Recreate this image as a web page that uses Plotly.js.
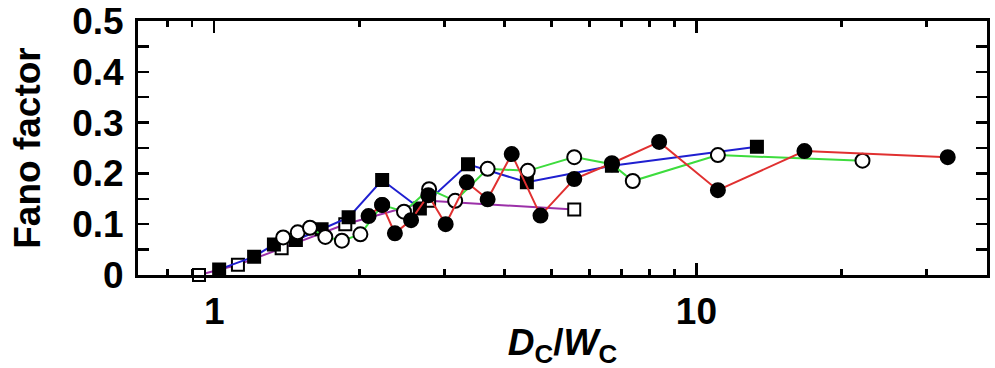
<!DOCTYPE html>
<html>
<head>
<meta charset="utf-8">
<script src="https://cdn.plot.ly/plotly-3.0.1.min.js"></script>
<style>html,body{margin:0;padding:0;background:#fff;}#chart{width:995px;height:368px;}</style>
</head>
<body>
<div id="chart"></div>
<script>
// Red series: filled circles
const redX = [2.09, 2.23, 2.37, 2.56, 2.78, 3.02, 3.34, 3.69, 4.14, 4.75, 5.58, 6.68, 8.37, 11.08, 16.75, 33.2];
const redY = [0.116, 0.138, 0.082, 0.108, 0.157, 0.100, 0.1825, 0.149, 0.238, 0.117, 0.189, 0.220, 0.262, 0.167, 0.244, 0.232];
// Green series: open circles
const greenX = [1.39, 1.49, 1.58, 1.70, 1.84, 2.01, 2.23, 2.475, 2.79, 3.16, 3.69, 4.47, 5.58, 6.68, 7.38, 11.08, 22.1];
const greenY = [0.074, 0.084, 0.093, 0.075, 0.0676, 0.080, 0.138, 0.1247, 0.169, 0.146, 0.209, 0.205, 0.232, 0.218, 0.185, 0.236, 0.225];
// Blue series: filled squares
const blueX = [1.024, 1.21, 1.33, 1.477, 1.67, 1.90, 2.23, 2.67, 3.36, 4.45, 6.68, 13.35];
const blueY = [0.011, 0.036, 0.060, 0.069, 0.090, 0.1135, 0.187, 0.131, 0.218, 0.1825, 0.215, 0.2526];
// Purple series: open squares
const purpleX = [0.93, 1.12, 1.38, 1.87, 2.79, 5.58];
const purpleY = [0.0, 0.020, 0.0525, 0.100, 0.146, 0.129];

const xMajor = [1, 10];
const xMajorText = ['1', '10'];
const xMinor = [0.8, 0.9, 2, 3, 4, 5, 6, 7, 8, 9, 20, 30];
const yTicks = [0, 0.1, 0.2, 0.3, 0.4, 0.5];
const yTickText = ['0', '0.1', '0.2', '0.3', '0.4', '0.5'];

const FONT = 'Liberation Sans, Arial, Helvetica, sans-serif';

function trace(x, y, color, symbol, filled) {
  return {
    x: x, y: y, type: 'scatter', mode: 'lines+markers', cliponaxis: false,
    line: {color: color, width: 2},
    marker: {
      symbol: symbol, size: symbol === 'circle' ? 14 : 12,
      color: filled ? '#000' : '#fff',
      line: {color: '#000', width: 2}
    },
    showlegend: false
  };
}

const data = [
  trace(purpleX, purpleY, '#9b30a8', 'square', false),
  trace(blueX, blueY, '#1f1fd0', 'square', true),
  trace(greenX, greenY, '#3ddc3d', 'circle', false),
  trace(redX, redY, '#e03030', 'circle', true)
];

const layout = {
  width: 995, height: 368,
  margin: {l: 138, r: 8, t: 21, b: 93},
  paper_bgcolor: '#fff', plot_bgcolor: '#fff',
  font: {family: FONT, color: '#000'},
  xaxis: {
    type: 'log', range: [Math.log10(0.695), Math.log10(40.05)],
    tickmode: 'array', tickvals: xMajor, ticktext: xMajorText,
    ticks: 'inside', ticklen: 12, tickwidth: 2.5, tickcolor: '#000',
    minor: {tickmode: 'array', tickvals: xMinor, ticks: 'inside', ticklen: 6, tickwidth: 2.5, tickcolor: '#000'},
    showline: true, linewidth: 3, linecolor: '#000', mirror: 'allticks',
    showgrid: false, zeroline: false,
    tickfont: {family: FONT, size: 37, color: '#000', weight: 'bold'},
    ticklabelstandoff: 2,
    title: {text: '<b><i>D</i><sub>C</sub>/<i>W</i><sub>C</sub></b>', font: {family: FONT, size: 37, color: '#000'}, standoff: 2},
    automargin: false
  },
  yaxis: {
    range: [0, 0.5],
    tickmode: 'array', tickvals: yTicks, ticktext: yTickText,
    ticks: 'inside', ticklen: 11, tickwidth: 2.5, tickcolor: '#000',
    minor: {dtick: 0.05, ticks: 'inside', ticklen: 11, tickwidth: 2.5, tickcolor: '#000'},
    showline: true, linewidth: 3, linecolor: '#000', mirror: 'allticks',
    showgrid: false, zeroline: false,
    tickfont: {family: FONT, size: 37, color: '#000', weight: 'bold'},
    ticklabelstandoff: 4,
    title: {text: '<b>Fano factor</b>', font: {family: FONT, size: 37, color: '#000'}, standoff: 21},
    automargin: false
  }
};

Plotly.newPlot('chart', data, layout, {staticPlot: true, displayModeBar: false});
</script>
</body>
</html>
